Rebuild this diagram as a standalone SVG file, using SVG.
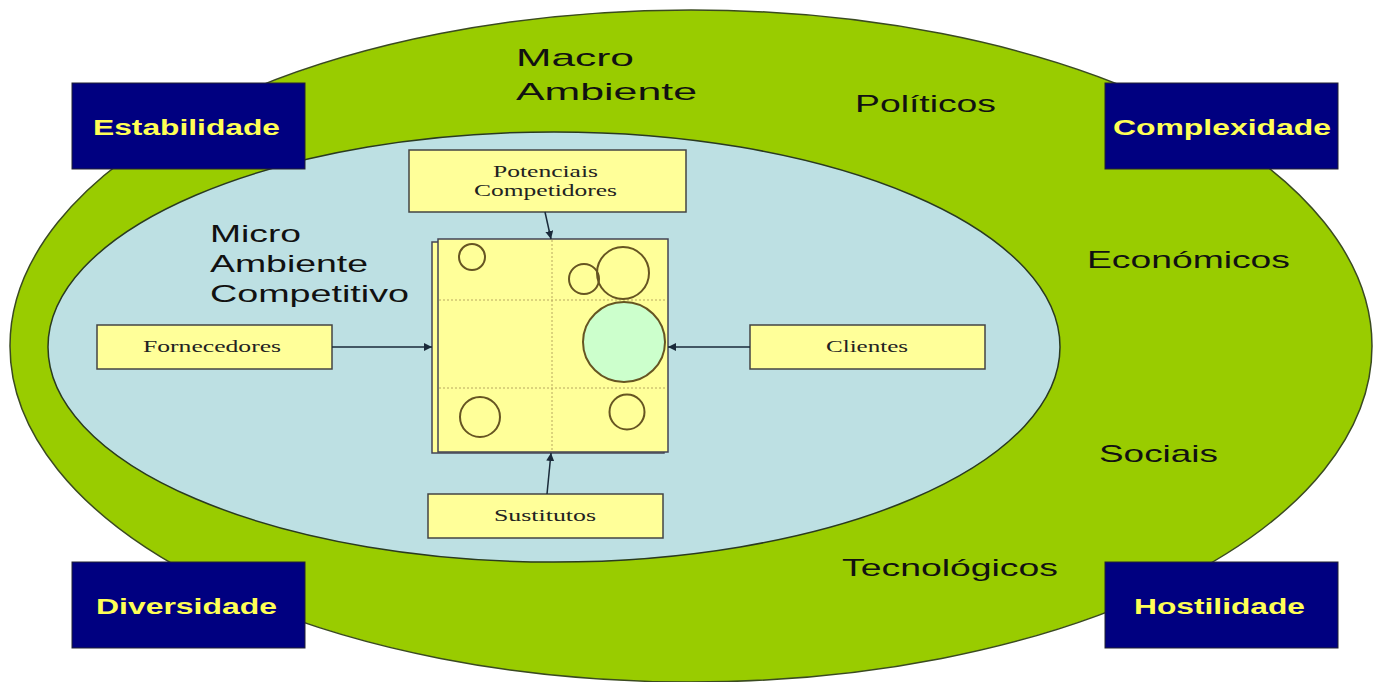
<svg xmlns="http://www.w3.org/2000/svg" width="1374" height="682" viewBox="0 0 1374 682">
<defs>
<style>
.dark{fill:#000080;stroke:#223;stroke-width:1}
.dt{font-family:"Liberation Sans",Arial,sans-serif;font-weight:bold;font-size:22px;fill:#ffff55}
.yb{fill:#ffff99;stroke:#444;stroke-width:1.5}
.yt{font-family:"Liberation Serif","Times New Roman",serif;font-size:16px;fill:#222}
.lbl{font-family:"Liberation Sans",Arial,sans-serif;font-size:24px;fill:#111}
.circ{fill:none;stroke:#665522;stroke-width:2}
.grid{stroke:#b8a860;stroke-width:1;stroke-dasharray:2 2}
.con{stroke:#1a2a3a;stroke-width:1.5;fill:none;marker-end:url(#ah)}
</style>
<marker id="ah" viewBox="0 0 10 10" refX="10" refY="5" markerWidth="8" markerHeight="8" markerUnits="userSpaceOnUse" orient="auto"><path d="M0,0 L10,5 L0,10 z" fill="#1a2a3a"/></marker>
</defs>
<rect width="1374" height="682" fill="#ffffff"/>
<g id="macro">
<ellipse cx="691" cy="346" rx="681" ry="336" fill="#99cc00" stroke="#3a4a20" stroke-width="1.5"/>
<text class="lbl" x="516" y="66" font-size="27" textLength="118" lengthAdjust="spacingAndGlyphs">Macro</text>
<text class="lbl" x="516" y="100" font-size="27" textLength="181" lengthAdjust="spacingAndGlyphs">Ambiente</text>
<text class="lbl" x="855" y="112" textLength="141" lengthAdjust="spacingAndGlyphs">Políticos</text>
<text class="lbl" x="1087" y="268" textLength="203" lengthAdjust="spacingAndGlyphs">Económicos</text>
<text class="lbl" x="1099" y="462" textLength="119" lengthAdjust="spacingAndGlyphs">Sociais</text>
<text class="lbl" x="842" y="576" textLength="216" lengthAdjust="spacingAndGlyphs">Tecnológicos</text>
</g>
<g id="micro">
<ellipse cx="554" cy="347" rx="506" ry="215" fill="#bde0e3" stroke="#2a3a20" stroke-width="1.5"/>
<text class="lbl" x="210" y="242" textLength="91" lengthAdjust="spacingAndGlyphs">Micro</text>
<text class="lbl" x="210" y="272" textLength="158" lengthAdjust="spacingAndGlyphs">Ambiente</text>
<text class="lbl" x="210" y="302" textLength="199" lengthAdjust="spacingAndGlyphs">Competitivo</text>
</g>
<g id="estabilidade"><rect class="dark" x="72" y="83" width="233" height="86"/><text class="dt" x="93" y="135" textLength="187" lengthAdjust="spacingAndGlyphs">Estabilidade</text></g>
<g id="complexidade"><rect class="dark" x="1105" y="83" width="233" height="86"/><text class="dt" x="1113" y="135" textLength="218" lengthAdjust="spacingAndGlyphs">Complexidade</text></g>
<g id="diversidade"><rect class="dark" x="72" y="562" width="233" height="86"/><text class="dt" x="96" y="614" textLength="181" lengthAdjust="spacingAndGlyphs">Diversidade</text></g>
<g id="hostilidade"><rect class="dark" x="1105" y="562" width="233" height="86"/><text class="dt" x="1134" y="614" textLength="171" lengthAdjust="spacingAndGlyphs">Hostilidade</text></g>
<g id="mercado">
<rect x="432" y="242" width="232" height="211" fill="#ffff99" stroke="#445" stroke-width="1.5"/>
<rect x="438" y="239" width="230" height="213" fill="#ffff99" stroke="#445" stroke-width="1.5"/>
<line class="grid" x1="552" y1="240" x2="552" y2="451"/>
<line class="grid" x1="439" y1="300" x2="667" y2="300"/>
<line class="grid" x1="439" y1="388" x2="667" y2="388"/>
<circle class="circ" cx="472" cy="257" r="13"/>
<circle class="circ" cx="584" cy="279" r="15"/>
<circle class="circ" cx="623" cy="273" r="26"/>
<ellipse cx="624" cy="342" rx="41" ry="40" fill="#ccffcc" stroke="#665522" stroke-width="2"/>
<circle class="circ" cx="480" cy="417" r="20"/>
<circle class="circ" cx="627" cy="412" r="17.5"/>
</g>
<g id="potenciais"><rect class="yb" x="409" y="150" width="277" height="62"/><text class="yt" x="493" y="177" textLength="105" lengthAdjust="spacingAndGlyphs">Potenciais</text><text class="yt" x="474" y="196" textLength="143" lengthAdjust="spacingAndGlyphs">Competidores</text></g>
<g id="fornecedores"><rect class="yb" x="97" y="325" width="235" height="44"/><text class="yt" x="143" y="352" textLength="138" lengthAdjust="spacingAndGlyphs">Fornecedores</text></g>
<g id="clientes"><rect class="yb" x="750" y="325" width="235" height="44"/><text class="yt" x="826" y="352" textLength="82" lengthAdjust="spacingAndGlyphs">Clientes</text></g>
<g id="sustitutos"><rect class="yb" x="428" y="494" width="235" height="44"/><text class="yt" x="494" y="521" textLength="102" lengthAdjust="spacingAndGlyphs">Sustitutos</text></g>
<g id="connectors">
<line class="con" x1="545" y1="212" x2="551" y2="239"/>
<line class="con" x1="332" y1="347" x2="432" y2="347"/>
<line class="con" x1="750" y1="347" x2="668" y2="347"/>
<line class="con" x1="547" y1="494" x2="551" y2="453"/>
</g>
</svg>
